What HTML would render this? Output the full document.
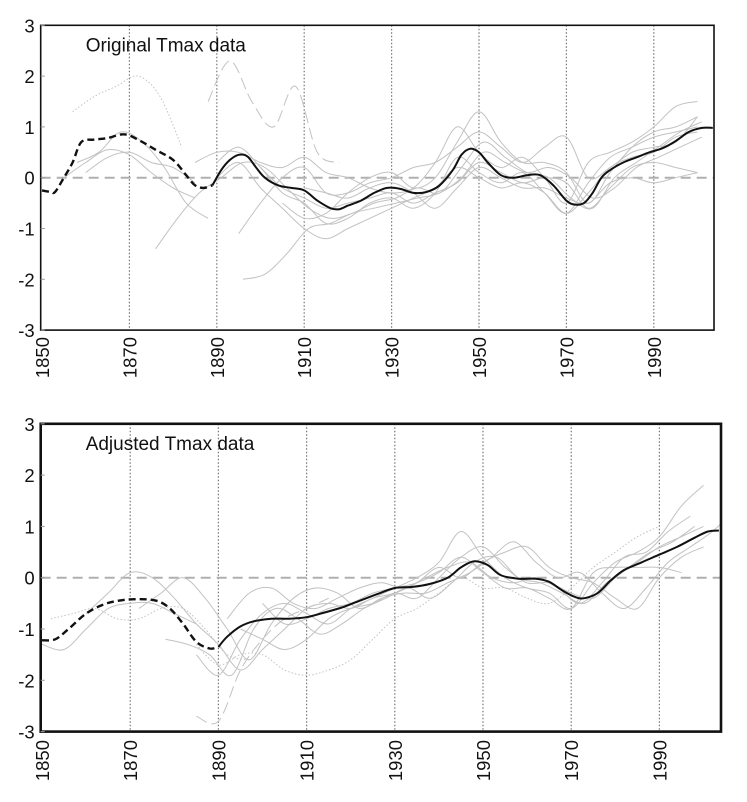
<!DOCTYPE html>
<html><head><meta charset="utf-8"><style>
html,body{margin:0;padding:0;background:#fff;}
svg{display:block;font-family:"Liberation Sans",Arial,sans-serif;}
</style></head><body>
<svg id="chart" width="747" height="802" viewBox="0 0 747 802"></svg>
<script>
// ---- data ----
const tickYears = [1850,1870,1890,1910,1930,1950,1970,1990];
const tickValues = [3,2,1,0,-1,-2,-3];
const origYears = [1850,1852,1853,1855,1857,1859,1862,1865,1868,1870,1873,1876,1880,1883,1885,1887,1889,1891,1893,1895,1897,1899,1901,1904,1907,1910,1913,1916,1918,1920,1923,1926,1929,1932,1935,1938,1941,1944,1946,1948,1950,1952,1955,1958,1961,1964,1967,1970,1972,1974,1976,1978,1980,1983,1986,1989,1992,1995,1998,2001,2003.5];
const origMean = [-0.25,-0.28,-0.28,0.0,0.3,0.7,0.75,0.78,0.85,0.83,0.7,0.55,0.35,0.05,-0.15,-0.2,-0.15,0.15,0.35,0.45,0.42,0.2,0.0,-0.15,-0.2,-0.25,-0.45,-0.6,-0.62,-0.55,-0.45,-0.3,-0.2,-0.22,-0.3,-0.28,-0.15,0.15,0.45,0.57,0.5,0.3,0.05,0.0,0.05,0.05,-0.15,-0.45,-0.53,-0.5,-0.3,0.0,0.15,0.3,0.4,0.5,0.58,0.72,0.9,0.98,0.98];
const adjYears = [1850,1853,1856,1860,1864,1868,1872,1876,1879,1882,1885,1888,1890,1892,1895,1898,1902,1906,1910,1914,1918,1922,1926,1930,1934,1938,1942,1945,1948,1951,1954,1958,1962,1965,1968,1971,1973,1976,1979,1982,1986,1990,1994,1998,2001,2003.5];
const adjMean = [-1.22,-1.2,-1.0,-0.7,-0.52,-0.44,-0.42,-0.45,-0.6,-0.9,-1.25,-1.38,-1.35,-1.15,-0.95,-0.85,-0.8,-0.8,-0.77,-0.68,-0.58,-0.45,-0.32,-0.2,-0.18,-0.12,0.0,0.2,0.32,0.25,0.05,-0.02,-0.02,-0.08,-0.25,-0.38,-0.4,-0.3,-0.05,0.15,0.3,0.45,0.6,0.78,0.9,0.92];
// station series: start year, then values every 5 years
const origStations = [
 [1857,[1.3,1.6,1.8,2.0,1.6,0.6],'dot'],
 [1888,[1.5,2.3,1.5,1.0,1.8,0.5,0.3],'dash'],
 [1858,[0.3,0.5,0.9,0.7,0.2,-0.5,-0.8],''],
 [1855,[0.0,0.3,0.55,0.45,0.1,-0.2,-0.4],''],
 [1860,[0.1,0.4,0.5,0.3,0.2,-0.1],''],
 [1876,[-1.4,-0.8,-0.3,0.0,0.3,0.2,-0.2,-0.6,-0.8,-0.7,-0.5,-0.4,-0.2,-0.3,0.2,0.7,0.4,0.1,0.0,-0.4,-0.6,0.0,0.3,0.6,0.9,1.1],''],
 [1890,[0.3,0.6,0.2,-0.3,-0.5,-0.9,-0.8,-0.5,-0.4,-0.6,-0.3,0.4,0.1,-0.1,0.1,-0.3,-0.7,-0.1,0.4,0.6,0.8,0.9,1.0],''],
 [1896,[-2.0,-1.9,-1.5,-1.0,-0.9,-0.7,-0.6,-0.5,-0.4,-0.3,0.0,0.5,0.3,0.1,0.2,0.0,-0.4,-0.2,0.2,0.4,0.6,0.8],''],
 [1895,[-1.1,-0.5,0.0,0.2,-0.3,-0.3,-0.1,0.0,0.2,0.3,0.6,0.9,0.6,0.3,0.6,0.8,0.0,0.2,0.5,0.6,0.7,1.2],''],
 [1885,[0.3,0.5,0.5,0.3,0.2,0.4,0.1,0.0,-0.2,-0.3,-0.2,0.3,1.0,0.5,0.2,0.4,0.0,-0.5,0.3,0.5,0.7,1.0,1.4,1.5],''],
 [1890,[0.0,0.3,-0.2,-0.6,-1.0,-1.2,-1.0,-0.8,-0.6,-0.4,-0.2,0.2,0.0,-0.2,-0.1,-0.3,-0.7,-0.3,0.2,0.4,0.5,0.8,0.9],''],
 [1900,[0.2,-0.2,-0.4,-0.6,-0.5,-0.4,-0.3,-0.5,-0.3,-0.1,0.3,0.1,-0.1,0.0,-0.1,-0.6,-0.2,0.2,0.3,0.2,0.1],''],
 [1905,[-0.5,-0.8,-0.7,-0.3,0.0,0.1,-0.2,0.0,0.7,1.3,0.7,0.3,0.3,0.1,-0.5,0.1,0.6,0.9,1.0,1.2],''],
 [1910,[-0.2,-0.3,-0.4,-0.2,-0.1,-0.3,-0.6,-0.2,0.2,0.0,-0.2,-0.2,-0.4,-0.5,-0.1,0.0,-0.1,0.0,0.1],'']
];
const adjStations = [
 [1850,[-1.3,-1.4,-1.0,-0.6,-0.5,-0.5,-0.7,-0.9],''],
 [1852,[-0.8,-0.7,-0.6,-0.8,-0.8,-0.6,-0.6,-1.0,-1.5,-1.6],'dot'],
 [1860,[-0.7,-0.3,0.1,0.0,-0.4,-0.9,-1.3,-1.8,-1.4,-1.0,-0.6,-0.5,-0.6,-0.4,-0.3,-0.1,0.2,0.0,0.3,0.5,0.6,0.2,0.0,-0.1,-0.4,-0.6,0.0,0.4,0.6],''],
 [1872,[-0.6,-0.3,0.0,-0.4,-1.0,-1.6,-0.9,-0.4,-0.2,-0.3,-0.6,-0.4,-0.3,-0.3,-0.1,0.1,0.4,0.7,0.3,0.0,0.1,-0.3,-0.6,-0.2,0.3,0.6,0.9,1.3],''],
 [1878,[-1.2,-1.3,-1.5,-1.9,-1.0,-0.6,-0.8,-1.1,-0.9,-0.6,-0.4,-0.2,-0.4,-0.1,0.3,0.4,0.0,-0.1,-0.3,-0.5,-0.1,0.2,0.5,0.7,1.0],''],
 [1885,[-2.7,-2.8,-1.8,-1.2,-0.8,-0.6,-0.4],'dash'],
 [1885,[-1.5,-1.9,-1.2,-0.7,-0.5,-0.7,-0.9,-0.6,-0.4,-0.2,0.0,0.3,0.9,0.4,0.0,-0.2,-0.3,-0.6,-0.1,0.3,0.5,0.8,1.4,1.8],''],
 [1885,[-1.3,-1.7,-1.5,-1.5,-1.8,-1.9,-1.8,-1.6,-1.2,-0.8,-0.6,-0.3,0.0,-0.2,-0.2,-0.4,-0.5,-0.2,0.2,0.5,0.8,1.0],'dot'],
 [1892,[-0.8,-0.3,-0.2,-0.5,-0.6,-0.4,-0.2,-0.1,-0.2,0.0,0.2,0.3,0.0,-0.1,0.0,-0.2,-0.5,-0.1,0.4,0.5,0.9,1.2],''],
 [1895,[-1.0,-1.2,-1.4,-1.2,-0.8,-0.6,-0.5,-0.3,-0.4,0.0,0.4,0.6,0.2,-0.1,-0.1,-0.3,-0.4,0.0,0.3,0.6,0.8,1.0],''],
 [1900,[-0.5,-0.9,-0.8,-0.6,-0.5,-0.3,-0.2,-0.1,0.1,0.4,0.1,-0.2,-0.2,-0.4,-0.6,0.1,0.2,0.2,0.2,0.1],'']
];

const NS='http://www.w3.org/2000/svg';
const svg=document.getElementById('chart');
function mk(tag,attrs,parent){const e=document.createElementNS(NS,tag);for(const k in attrs)e.setAttribute(k,attrs[k]);(parent||svg).appendChild(e);return e;}
function smooth(pts){
  if(pts.length<2)return '';
  let d='M'+pts[0][0].toFixed(1)+','+pts[0][1].toFixed(1);
  for(let i=0;i<pts.length-1;i++){
    const p0=pts[i-1]||pts[i],p1=pts[i],p2=pts[i+1],p3=pts[i+2]||p2;
    const c1=[p1[0]+(p2[0]-p0[0])/6,p1[1]+(p2[1]-p0[1])/6];
    const c2=[p2[0]-(p3[0]-p1[0])/6,p2[1]-(p3[1]-p1[1])/6];
    d+='C'+c1[0].toFixed(1)+','+c1[1].toFixed(1)+' '+c2[0].toFixed(1)+','+c2[1].toFixed(1)+' '+p2[0].toFixed(1)+','+p2[1].toFixed(1);
  }
  return d;
}
function panel(id,g,title,years,mean,stations,splitYear){
  const xs=yr=>g.x0+(yr-1850)*g.px;
  const ys=v=>g.y0-v*g.py;
  const grp=mk('g',{});
  
  
  const cp=mk('clipPath',{id:id+'-clip'},grp);
  mk('rect',{x:g.left,y:ys(3),width:g.right-g.left,height:ys(-3)-ys(3)},cp);
  tickYears.slice(1).forEach(yr=>{
    const l=mk('line',{x1:xs(yr),x2:xs(yr),y1:ys(3),y2:ys(-3),stroke:'#777','stroke-width':1.2,'stroke-dasharray':'1.5,2'},grp);
    
    
  });
  const z=mk('line',{x1:g.left,x2:g.right,y1:ys(0),y2:ys(0),stroke:'#b0b0b0','stroke-width':2,'stroke-dasharray':'10,6'},grp);
  
  
  const sg=mk('g',{'clip-path':'url(#'+id+'-clip)'},grp);
  stations.forEach((s,i)=>{
    const pts=s[1].map((v,k)=>[xs(s[0]+5*k),ys(v)]);
    const p=mk('path',{d:smooth(pts),fill:'none',stroke:'#c2c2c2','stroke-width':1},sg);
    if(s[2]==='dot')p.setAttribute('stroke-dasharray','1.5,2');
    if(s[2]==='dash')p.setAttribute('stroke-dasharray','12,5');
    
    
  });
  const pts=years.map((yr,i)=>[xs(yr),ys(mean[i])]);
  const k=years.findIndex(yr=>yr>=splitYear);
  const m1=mk('path',{d:smooth(pts.slice(0,k+1)),fill:'none',stroke:'#111','stroke-width':2.4,'stroke-dasharray':'7,4'},sg);
  
  
  const m2=mk('path',{d:smooth(pts.slice(k)),fill:'none',stroke:'#111','stroke-width':2},sg);
  
  
  const fr=mk('rect',{x:g.left,y:ys(3),width:g.right-g.left,height:ys(-3)-ys(3),fill:'none',stroke:'#111','stroke-width':g.frame},grp);
  
  
  tickValues.forEach(v=>{
    mk('line',{x1:g.left,x2:g.left+4,y1:ys(v),y2:ys(v),stroke:'#999','stroke-width':1},grp);
    const t=mk('text',{x:g.left-6,y:ys(v)+7,'text-anchor':'end','font-size':18.5,fill:'#111'},grp);
    t.textContent=String(v);
    
    
  });
  tickYears.forEach(yr=>{
    const t=mk('text',{x:0,y:0,'text-anchor':'end','font-size':18.5,fill:'#111',transform:'translate('+(xs(yr)+7)+','+g.labelY+') rotate(-90)'},grp);
    t.textContent=String(yr);
    
    
  });
  const tt=mk('text',{x:g.left+45,y:ys(3)+26,'font-size':19,fill:'#111'},grp);
  tt.textContent=title;
  
  
}
panel('original',{x0:42,px:4.37,y0:177.7,py:50.8,left:40.7,right:714,frame:1.6,labelY:337},'Original Tmax data',origYears,origMean,origStations,1889);
panel('adjusted',{x0:42,px:4.41,y0:577.7,py:51.3,left:40.7,right:721,frame:2.6,labelY:740},'Adjusted Tmax data',adjYears,adjMean,adjStations,1890);
</script>
</body></html>
